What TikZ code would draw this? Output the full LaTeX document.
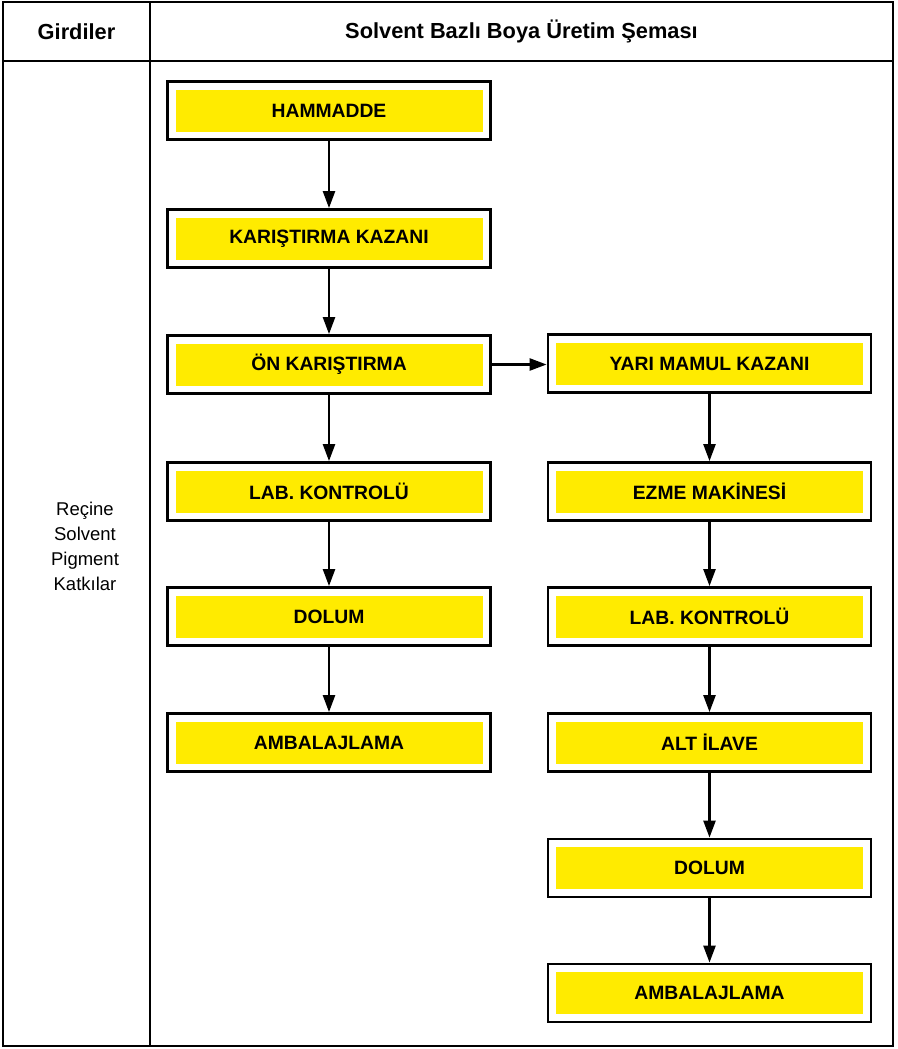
\documentclass[tikz,border=0pt]{standalone}
\usepackage{fontspec}
\setmainfont{Liberation Sans}
\usetikzlibrary{arrows.meta}
\definecolor{boxyellow}{HTML}{FFEB00}
\begin{document}
\begin{tikzpicture}[x=1pt,y=-1pt,
  stepbox/.style={draw=black, line width=2.8pt, fill=white,
    minimum width=323pt, minimum height=58pt, inner sep=0pt,
    path picture={\fill[boxyellow] ([shift={(8pt,-8pt)}]path picture bounding box.north west) rectangle ([shift={(-8pt,8pt)}]path picture bounding box.south east);
      \node[font=\fontsize{19.3}{21}\selectfont\bfseries] at (path picture bounding box.center) {\tikzpictext};}},
  flow/.style={line width=2.4pt, -{Triangle[length=17pt,width=12pt]}},
  frame/.style={line width=2pt},
  hdr/.style={font=\fontsize{21.8}{24}\selectfont\bfseries},
]
\useasboundingbox (0,0) rectangle (897,1049);
\fill[white] (0,0) rectangle (897,1049);
\draw[frame] (3,2) rectangle (893,1046);
\draw[frame] (150,2) -- (150,1046);
\draw[frame] (3,61) -- (893,61);
\node[hdr] (h1) at (76.5,31.5) {Girdiler};
\node[hdr] (h2) at (521.5,31.5) {Solvent Bazlı Boya Üretim Şeması};
\node[align=center, font=\fontsize{18.5}{25}\selectfont] (inp) at (85,546) {Reçine\\Solvent\\Pigment\\Katkılar};

% left column
\node[stepbox, pic text=HAMMADDE] (l1) at (329,110.5) {};
\node[stepbox, pic text=KARIŞTIRMA KAZANI] (l2) at (329,238.5) {};
\node[stepbox, pic text=ÖN KARIŞTIRMA] (l3) at (329,364.5) {};
\node[stepbox, pic text=LAB. KONTROLÜ] (l4) at (329,491.5) {};
\node[stepbox, pic text=DOLUM] (l5) at (329,616.5) {};
\node[stepbox, pic text=AMBALAJLAMA] (l6) at (329,742.5) {};
% right column
\node[stepbox, pic text=YARI MAMUL KAZANI] (r1) at (709.5,363.5) {};
\node[stepbox, pic text=EZME MAKİNESİ] (r2) at (709.5,491.5) {};
\node[stepbox, pic text=LAB. KONTROLÜ] (r3) at (709.5,616.5) {};
\node[stepbox, pic text=ALT İLAVE] (r4) at (709.5,742.5) {};
\node[stepbox, pic text=DOLUM] (r5) at (709.5,868) {};
\node[stepbox, pic text=AMBALAJLAMA] (r6) at (709.5,993) {};

\draw[flow] (l1) -- (l2);
\draw[flow] (l2) -- (l3);
\draw[flow] (l3) -- (l4);
\draw[flow] (l4) -- (l5);
\draw[flow] (l5) -- (l6);
\draw[flow] (l3.east) -- (r1.west |- l3.east);
\draw[flow] (r1) -- (r2);
\draw[flow] (r2) -- (r3);
\draw[flow] (r3) -- (r4);
\draw[flow] (r4) -- (r5);
\draw[flow] (r5) -- (r6);
\end{tikzpicture}
\end{document}
